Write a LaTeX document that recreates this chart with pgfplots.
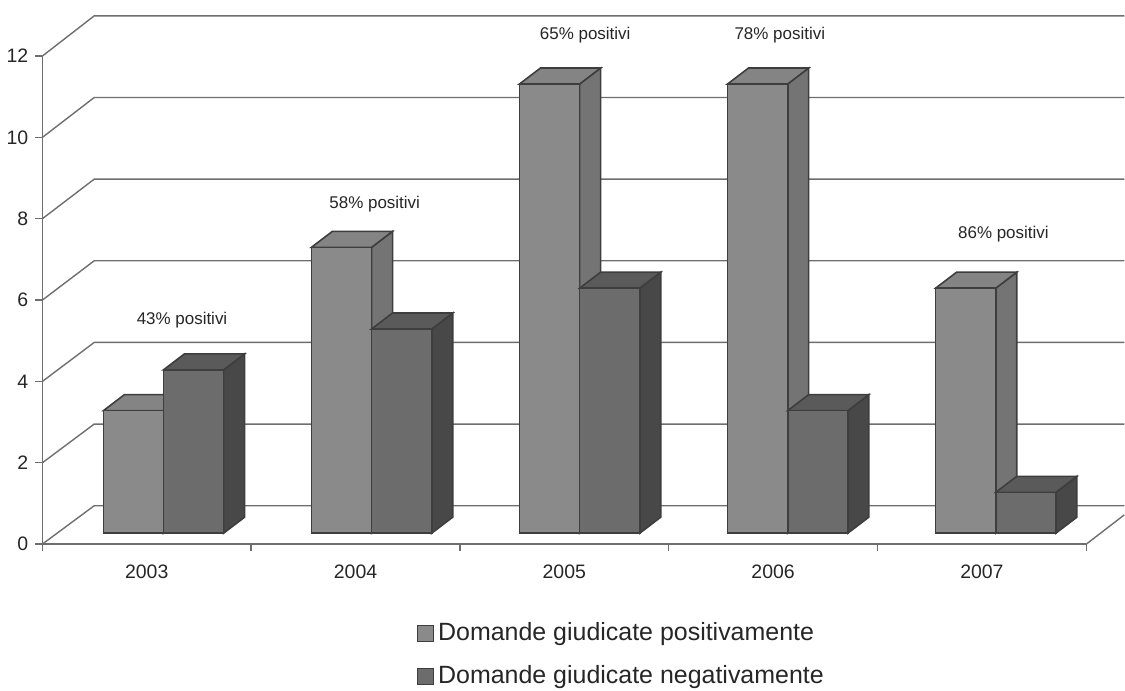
\documentclass[border=0pt]{standalone}
\usepackage{fontspec}
\setmainfont{Liberation Sans}
\usepackage{pgfplots}
\pgfplotsset{compat=1.18}
\definecolor{posF}{HTML}{8A8A8A}
\definecolor{posT}{HTML}{848484}
\definecolor{posS}{HTML}{747474}
\definecolor{negF}{HTML}{6C6C6C}
\definecolor{negT}{HTML}{5A5A5A}
\definecolor{negS}{HTML}{484848}
\definecolor{edgeC}{HTML}{3E3E3E}
\definecolor{wallC}{HTML}{6E6E6E}
% #1 year index, #2 series slot (0 or 1), #3 value, #4 front, #5 top, #6 side
\newcommand{\threedbar}[6]{%
  \pgfmathsetmacro{\xa}{#1*0.9965+0.2925+#2*0.2880}%
  \pgfmathsetmacro{\xb}{\xa+0.2880}%
  \pgfmathsetmacro{\xc}{\xa+0.1004}%
  \pgfmathsetmacro{\xd}{\xb+0.1004}%
  \pgfmathsetmacro{\ya}{0.27}%
  \pgfmathsetmacro{\yb}{0.27+#3*1.004}%
  \pgfmathsetmacro{\yc}{\ya+0.393}%
  \pgfmathsetmacro{\yd}{\yb+0.393}%
  \addplot[forget plot,fill=#6,draw=edgeC,line width=0.8pt] coordinates {(\xb,\ya) (\xd,\yc) (\xd,\yd) (\xb,\yb)} --cycle;
  \addplot[forget plot,fill=#5,draw=edgeC,line width=0.8pt] coordinates {(\xa,\yb) (\xb,\yb) (\xd,\yd) (\xc,\yd)} --cycle;
  \addplot[forget plot,fill=#4,draw=edgeC,line width=0.8pt] coordinates {(\xa,\ya) (\xb,\ya) (\xb,\yb) (\xa,\yb)} --cycle;
}
\newcommand{\wall}[1]{%
  \pgfmathsetmacro{\yw}{#1*1.0037+0.945}%
  \addplot[forget plot,wallC,line width=0.7pt] coordinates {(0,#1) (0.2486,\yw) (5.182,\yw)};
}
\begin{document}
\begin{tikzpicture}
\begin{axis}[
  at={(20.5pt,70.4pt)},anchor=origin,
  scale only axis,width=523pt,height=244.5pt,
  xmin=0,xmax=5,ymin=0,ymax=12,
  axis x line*=bottom,axis y line*=left,
  axis line style={wallC,line width=0.7pt,-},
  clip=false,
  xtick={0,1,2,3,4,5},
  x tick label as interval,
  xticklabels={2003,2004,2005,2006,2007},
  ytick={0,2,4,6,8,10,12},
  tick align=outside,
  major tick length=3.5pt,
  tick style={wallC,line width=0.7pt},
  tick label style={font=\fontsize{9.75}{11}\selectfont,color=black!85},
  x tick label style={yshift=-3.5pt},
  /pgf/number format/assume math mode=true,
  legend style={draw=none,fill=none,at={(0.3585,-0.152)},anchor=north west,
    font=\fontsize{12.5}{14}\selectfont,text=black!85,
    row sep=7pt,inner sep=0pt,
    /tikz/every even column/.style={column sep=5pt}},
  legend cell align=left,
  legend image code/.code={\draw[#1,line width=0.6pt] (0pt,-4pt) rectangle (8pt,4pt);},
]
\addlegendimage{fill=posF,draw=edgeC}
\addlegendentry{Domande giudicate positivamente}
\addlegendimage{fill=negF,draw=edgeC}
\addlegendentry{Domande giudicate negativamente}

\wall{0}\wall{2}\wall{4}\wall{6}\wall{8}\wall{10}\wall{12}
\addplot[forget plot,wallC,line width=0.7pt] coordinates {(5,0) (5.182,0.72)};

\threedbar{0}{0}{3}{posF}{posT}{posS}
\threedbar{0}{1}{4}{negF}{negT}{negS}
\threedbar{1}{0}{7}{posF}{posT}{posS}
\threedbar{1}{1}{5}{negF}{negT}{negS}
\threedbar{2}{0}{11}{posF}{posT}{posS}
\threedbar{2}{1}{6}{negF}{negT}{negS}
\threedbar{3}{0}{11}{posF}{posT}{posS}
\threedbar{3}{1}{3}{negF}{negT}{negS}
\threedbar{4}{0}{6}{posF}{posT}{posS}
\threedbar{4}{1}{1}{negF}{negT}{negS}

\tikzset{pct/.style={font=\fontsize{8.5}{10}\selectfont,text=black!85}}
\node[pct] at (axis cs:0.669,5.50) {43\% positivi};
\node[pct] at (axis cs:1.592,8.37) {58\% positivi};
\node[pct] at (axis cs:2.600,12.52) {65\% positivi};
\node[pct] at (axis cs:3.532,12.52) {78\% positivi};
\node[pct] at (axis cs:4.603,7.62) {86\% positivi};
\end{axis}
\path[use as bounding box] (0,0) rectangle (562.5pt,343pt);
\end{tikzpicture}
\end{document}
